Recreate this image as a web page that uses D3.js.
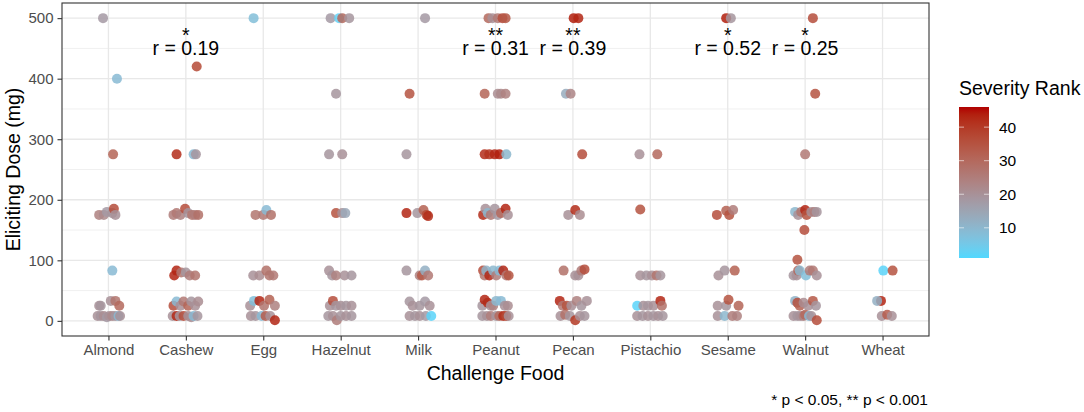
<!DOCTYPE html>
<html>
<head>
<meta charset="utf-8">
<script src="https://cdn.jsdelivr.net/npm/d3@7"></script>
<style>
  html, body { margin: 0; padding: 0; background: #fff; }
  svg { display: block; font-family: "Liberation Sans", Arial, sans-serif; }
</style>
</head>
<body>
<svg id="chart" width="1084" height="412"></svg>
<script>
// ---------- data ----------
const foods = ["Almond","Cashew","Egg","Hazelnut","Milk","Peanut","Pecan","Pistachio","Sesame","Walnut","Wheat"];
const yTicks = [0, 100, 200, 300, 400, 500];
const yMinorTicks = [50, 150, 250, 350, 450];
const legendTicks = [10, 20, 30, 40];
const rankRange = [1, 46];
const rLabels = ["", "r = 0.19", "", "", "", "r = 0.31", "r = 0.39", "", "r = 0.52", "r = 0.25", ""];
const stars   = ["", "*", "", "", "", "**", "**", "", "*", "*", ""];

// each point: [eliciting dose (mg), severity rank, jitter (category units)]
const almond = [
  [500,18,-0.07],[400,9,0.11],[275,31,0.06],
  [175,24,-0.12],[175,22,-0.06],[180,18,-0.02],[178,19,0.05],[185,36,0.07],[175,20,0.09],
  [83,9,0.05],
  [25,20,-0.12],[25,19,-0.1],[33,20,0.03],[33,27,0.09],[25,30,0.14],
  [8,20,-0.14],[8,19,-0.1],[8,21,-0.06],[6,18,-0.02],[8,20,0.01],[8,22,0.05],[8,19,0.09],[8,9,0.13],[8,20,0.15]
];
const cashew = [
  [420,37,0.14],
  [275,42,-0.12],[275,9,0.1],[275,19,0.13],
  [175,25,-0.16],[178,26,-0.12],[175,24,-0.07],[185,36,-0.01],[178,19,0.03],[175,27,0.08],[175,25,0.12],[175,28,0.16],
  [75,43,-0.15],[83,43,-0.12],[80,27,-0.06],[80,19,0],[75,25,0.05],[75,27,0.12],
  [25,36,-0.16],[32,9,-0.12],[25,20,-0.07],[32,26,-0.03],[25,31,0.03],[32,19,0.07],[25,20,0.12],[32,21,0.16],
  [8,20,-0.17],[8,43,-0.12],[8,19,-0.08],[8,36,-0.03],[8,20,0.03],[6,21,0.07],[8,9,0.1],[8,19,0.15]
];
const egg = [
  [500,8,-0.125],
  [175,27,-0.1],[175,26,0],[183,9,0.04],[175,28,0.1],
  [75,20,-0.13],[75,21,-0.05],[83,28,0.04],[75,27,0.08],[75,26,0.13],
  [25,20,-0.17],[33,8,-0.12],[33,43,-0.05],[25,27,0.01],[35,32,0.08],[25,24,0.15],
  [8,20,-0.16],[8,19,-0.1],[8,9,-0.02],[8,33,0.03],[8,20,0.09],[1,43,0.15]
];
const hazelnut = [
  [500,18,-0.13],[500,3,-0.02],[500,30,0.02],[500,19,0.11],
  [375,19,-0.06],
  [275,19,-0.15],[275,20,0.02],
  [178,35,-0.06],[178,20,0.02],[178,14,0.06],
  [83,20,-0.15],[75,19,-0.11],[75,24,-0.06],[75,20,0.05],[75,19,0.14],
  [25,20,-0.14],[33,36,-0.1],[25,19,-0.06],[25,20,0],[25,19,0.07],[25,20,0.14],
  [8,19,-0.16],[8,20,-0.1],[1,25,-0.05],[8,19,0],[8,20,0.07],[8,19,0.14]
];
const milk = [
  [500,18,0.09],
  [375,35,-0.11],
  [275,19,-0.15],
  [178,43,-0.15],[178,19,-0.01],[183,32,0.07],[175,37,0.11],[173,42,0.13],
  [83,19,-0.15],[75,24,0.02],[75,34,0.05],[83,12,0.09],[75,26,0.13],
  [32,19,-0.11],[25,20,-0.07],[25,19,0.02],[32,18,0.09],[25,20,0.15],
  [8,20,-0.11],[8,19,-0.04],[8,20,0.02],[8,18,0.1],[8,2,0.17]
];
const peanut = [
  [500,30,-0.09],[500,20,-0.04],[500,26,0.03],[500,36,0.09],[500,34,0.13],
  [375,31,-0.14],[375,21,0.03],[375,22,0.07],[375,24,0.13],
  [275,42,-0.14],[275,41,-0.08],[275,43,-0.01],[275,44,0.05],[275,10,0.14],
  [175,42,-0.16],[185,20,-0.13],[178,10,-0.1],[175,26,-0.06],[185,19,-0.01],[175,18,0.03],[178,30,0.07],[185,43,0.13],[175,20,0.16],
  [83,36,-0.16],[75,27,-0.14],[83,11,-0.12],[75,43,-0.08],[83,10,-0.03],[75,25,0.01],[83,9,0.05],[83,43,0.1],[75,26,0.14],[75,35,0.17],
  [25,19,-0.17],[35,43,-0.14],[30,42,-0.1],[25,20,-0.06],[25,24,-0.03],[33,10,0.01],[33,9,0.07],[25,20,0.12],[25,21,0.16],
  [8,19,-0.17],[8,20,-0.11],[8,25,-0.06],[8,19,0.01],[8,30,0.05],[8,42,0.1],[8,37,0.14],[8,20,0.17]
];
const pecan = [
  [500,44,0.01],[500,43,0.07],
  [375,13,-0.09],[375,23,-0.03],
  [275,36,0.12],
  [175,20,-0.06],[183,42,0.03],[175,21,0.09],
  [83,28,-0.12],[75,20,0.03],[75,20,0.07],[83,25,0.11],[85,36,0.15],
  [33,43,-0.17],[25,26,-0.13],[25,35,-0.08],[25,20,-0.02],[33,24,0.05],[25,19,0.11],[33,20,0.18],
  [8,20,-0.16],[10,28,-0.1],[8,19,-0.04],[1,40,0.03],[8,20,0.09],[8,19,0.15]
];
const pistachio = [
  [275,20,-0.14],[275,30,0.09],
  [184,35,-0.13],
  [75,20,-0.13],[75,19,-0.05],[75,20,0.02],[75,27,0.08],[75,19,0.13],
  [25,2,-0.17],[25,20,-0.09],[25,19,-0.03],[25,20,0.04],[33,43,0.13],[25,28,0.15],
  [8,20,-0.17],[8,19,-0.1],[8,20,-0.03],[8,19,0.04],[8,20,0.1],[8,19,0.16]
];
const sesame = [
  [500,44,-0.02],[500,19,0.04],
  [175,36,-0.14],[182,32,-0.02],[175,35,0.02],[183,25,0.07],
  [75,20,-0.12],[83,19,-0.04],[83,32,0.09],
  [25,20,-0.13],[25,19,-0.02],[35,35,0.01],[25,31,0.14],
  [8,20,-0.13],[8,10,-0.04],[8,25,0.06],[8,24,0.12]
];
const walnut = [
  [500,36,0.1],
  [375,35,0.13],
  [275,26,0],
  [180,10,-0.13],[175,20,-0.09],[180,27,-0.05],[183,43,0],[175,35,0.02],[180,20,0.08],[180,25,0.12],[180,19,0.15],
  [150,36,-0.01],
  [101,35,-0.1],
  [75,19,-0.15],[75,20,-0.11],[83,30,-0.09],[83,10,-0.07],[75,8,0.01],[83,25,0.06],[83,26,0.1],[75,20,0.15],
  [33,11,-0.13],[30,36,-0.1],[25,32,-0.07],[30,21,-0.02],[25,20,0.04],[33,34,0.1],[25,19,0.14],
  [8,20,-0.15],[8,19,-0.1],[8,20,-0.06],[8,24,-0.02],[10,30,0],[8,9,0.05],[8,20,0.08],[1,36,0.15]
];
const wheat = [
  [83,2,0.01],[83,35,0.13],
  [33,43,-0.02],[33,12,-0.07],
  [8,20,-0.01],[10,33,0.06],[8,20,0.12]
];

const pointsByFood = [almond, cashew, egg, hazelnut, milk, peanut, pecan, pistachio, sesame, walnut, wheat];
const points = [];
pointsByFood.forEach((arr, i) => arr.forEach(p => points.push({ food: foods[i], dose: p[0], rank: p[1], jit: p[2] })));

// ---------- layout ----------
const svg = d3.select("#chart");
const P = { left: 62, right: 929, top: 3, bottom: 336 };
const FONT = '"Liberation Sans", Arial, sans-serif';

const x = d3.scalePoint().domain(foods).range([P.left, P.right]).padding(0.6);
const y = d3.scaleLinear().domain([-25, 525]).range([P.bottom, P.top]);
const color = d3.scaleLinear()
  .domain([1, 19, 46])
  .range(["#50d8ff", "#a6959e", "#b10000"])
  .interpolate(d3.interpolateLab)
  .clamp(true);

// panel background & grid
const g = svg.append("g");
g.append("rect").attr("x", P.left).attr("y", P.top)
  .attr("width", P.right - P.left).attr("height", P.bottom - P.top).attr("fill", "#fff");

g.selectAll("line.minor").data(yMinorTicks).join("line")
  .attr("x1", P.left).attr("x2", P.right)
  .attr("y1", d => y(d)).attr("y2", d => y(d))
  .attr("stroke", "#f0f0f0").attr("stroke-width", 1);
g.selectAll("line.majy").data(yTicks).join("line")
  .attr("x1", P.left).attr("x2", P.right)
  .attr("y1", d => y(d)).attr("y2", d => y(d))
  .attr("stroke", "#e8e8e8").attr("stroke-width", 1.3);
g.selectAll("line.majx").data(foods).join("line")
  .attr("x1", d => x(d)).attr("x2", d => x(d))
  .attr("y1", P.top).attr("y2", P.bottom)
  .attr("stroke", "#e8e8e8").attr("stroke-width", 1.3);

// points
g.append("g").selectAll("circle").data(points).join("circle")
  .attr("cx", d => x(d.food) + d.jit * x.step())
  .attr("cy", d => y(d.dose))
  .attr("r", 5)
  .attr("fill", d => color(d.rank))
  .attr("fill-opacity", 0.85);

// annotations: significance stars above correlation label (one two-line text each)
const ann = g.append("g").selectAll("text").data(foods.filter((f, i) => rLabels[i])).join("text")
  .attr("text-anchor", "middle").attr("font-size", 19.5).attr("fill", "#000");
ann.append("tspan").attr("x", d => x(d)).attr("y", y(461))
  .text(d => stars[foods.indexOf(d)]);
ann.append("tspan").attr("x", d => x(d)).attr("y", y(439))
  .text(d => rLabels[foods.indexOf(d)]);

// panel border
g.append("rect").attr("x", P.left).attr("y", P.top)
  .attr("width", P.right - P.left).attr("height", P.bottom - P.top)
  .attr("fill", "none").attr("stroke", "#333").attr("stroke-width", 1.1);

// axes
const xAxis = svg.append("g").attr("transform", `translate(0,${P.bottom})`)
  .call(d3.axisBottom(x).tickSize(4.5).tickPadding(4));
const yAxis = svg.append("g").attr("transform", `translate(${P.left},0)`)
  .call(d3.axisLeft(y).tickValues(yTicks).tickSize(4.5).tickPadding(4));
[xAxis, yAxis].forEach(a => {
  a.select(".domain").remove();
  a.selectAll(".tick line").attr("stroke", "#333").attr("stroke-width", 1.1);
  a.selectAll(".tick text").attr("fill", "#4d4d4d").attr("font-size", 15).attr("font-family", FONT);
});
xAxis.selectAll(".tick text").attr("dy", "0.71em");

// axis titles
svg.append("text").attr("x", (P.left + P.right) / 2).attr("y", 380)
  .attr("text-anchor", "middle").attr("font-size", 19.5).attr("fill", "#000")
  .text("Challenge Food");
svg.append("text").attr("transform", `translate(20,${(P.top + P.bottom) / 2}) rotate(-90)`)
  .attr("text-anchor", "middle").attr("font-size", 19.5).attr("fill", "#000")
  .text("Eliciting Dose (mg)");

// caption
svg.append("text").attr("x", 928).attr("y", 405)
  .attr("text-anchor", "end").attr("font-size", 15.5).attr("fill", "#000")
  .text("* p < 0.05, ** p < 0.001");

// legend
const L = { x: 959, w: 30, top: 107, bottom: 258 };
const ly = d3.scaleLinear().domain(rankRange).range([L.bottom, L.top]);
const defs = svg.append("defs");
const grad = defs.append("linearGradient").attr("id", "sevgrad")
  .attr("x1", 0).attr("y1", 1).attr("x2", 0).attr("y2", 0);
d3.range(0, 21).forEach(i => {
  const v = rankRange[0] + (rankRange[1] - rankRange[0]) * i / 20;
  grad.append("stop").attr("offset", (i / 20 * 100) + "%").attr("stop-color", color(v));
});
svg.append("text").attr("x", L.x).attr("y", 95)
  .attr("font-size", 19.5).attr("fill", "#000").text("Severity Rank");
svg.append("rect").attr("x", L.x).attr("y", L.top).attr("width", L.w)
  .attr("height", L.bottom - L.top).attr("fill", "url(#sevgrad)");
const lt = svg.append("g").selectAll("g").data(legendTicks).join("g");
lt.append("line").attr("x1", L.x).attr("x2", L.x + 5)
  .attr("y1", d => ly(d)).attr("y2", d => ly(d)).attr("stroke", "#fff").attr("stroke-opacity", 0.6);
lt.append("line").attr("x1", L.x + L.w - 5).attr("x2", L.x + L.w)
  .attr("y1", d => ly(d)).attr("y2", d => ly(d)).attr("stroke", "#fff").attr("stroke-opacity", 0.6);
lt.append("text").attr("x", 999).attr("y", d => ly(d)).attr("dy", "0.35em")
  .attr("font-size", 15.5).attr("fill", "#000").text(d => d);
</script>
</body>
</html>
